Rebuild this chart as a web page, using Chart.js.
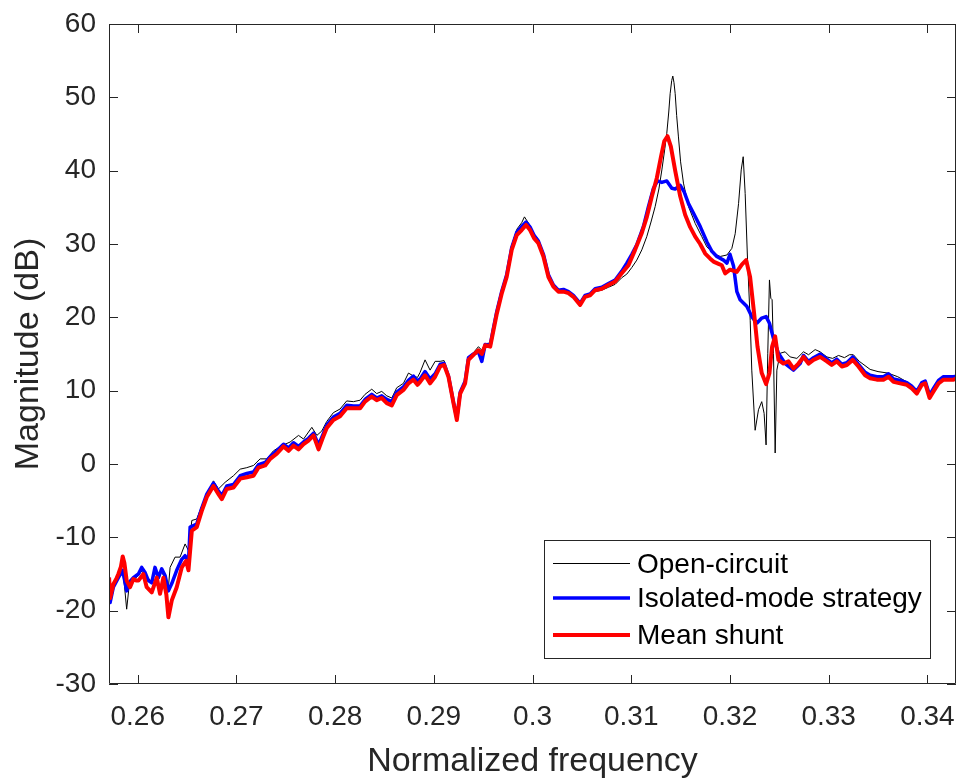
<!DOCTYPE html>
<html>
<head>
<meta charset="utf-8">
<script src="https://cdn.jsdelivr.net/npm/chart.js@4.4.0/dist/chart.umd.min.js"></script>
<style>
  body { margin: 0; background: #fff; }
</style>
</head>
<body>
<canvas id="chart" width="960" height="779"></canvas>
<script>
// Open-circuit (thin black)
const freqOpen = [
  0.25710, 0.25720, 0.25753, 0.25804, 0.25848, 0.25865, 0.25888, 0.25910, 0.25945, 0.26007,
  0.26040, 0.26074, 0.26108, 0.26142, 0.26175, 0.26209, 0.26243, 0.26277, 0.26311, 0.26328,
  0.26378, 0.26429, 0.26480, 0.26514, 0.26548, 0.26598, 0.26649, 0.26716, 0.26767, 0.26818,
  0.26885, 0.26970, 0.27038, 0.27105, 0.27173, 0.27240, 0.27308, 0.27375, 0.27460, 0.27544,
  0.27629, 0.27680, 0.27764, 0.27815, 0.27865, 0.27915, 0.27982, 0.28050, 0.28117, 0.28185,
  0.28253, 0.28303, 0.28371, 0.28421, 0.28472, 0.28523, 0.28574, 0.28624, 0.28692, 0.28743,
  0.28793, 0.28834, 0.28861, 0.28911, 0.28962, 0.29013, 0.29064, 0.29104, 0.29148, 0.29199,
  0.29233, 0.29267, 0.29317, 0.29351, 0.29402, 0.29452, 0.29486, 0.29520, 0.29571, 0.29605,
  0.29638, 0.29689, 0.29738, 0.29789, 0.29840, 0.29890, 0.29918, 0.29975, 0.30015, 0.30059,
  0.30110, 0.30161, 0.30211, 0.30262, 0.30313, 0.30364, 0.30414, 0.30482, 0.30532, 0.30583,
  0.30634, 0.30701, 0.30769, 0.30837, 0.30904, 0.30955, 0.31006, 0.31056, 0.31107, 0.31157,
  0.31200, 0.31242, 0.31280, 0.31310, 0.31340, 0.31360, 0.31380, 0.31394, 0.31410, 0.31421,
  0.31433, 0.31445, 0.31460, 0.31478, 0.31500, 0.31529, 0.31580, 0.31648, 0.31715, 0.31766,
  0.31834, 0.31901, 0.31969, 0.32019, 0.32053, 0.32087, 0.32114, 0.32134, 0.32154, 0.32178,
  0.32205, 0.32221, 0.32255, 0.32289, 0.32322, 0.32346, 0.32366, 0.32383, 0.32400, 0.32414,
  0.32427, 0.32441, 0.32458, 0.32475, 0.32508, 0.32559, 0.32610, 0.32678, 0.32745, 0.32796,
  0.32863, 0.32913, 0.32982, 0.33040, 0.33100, 0.33160, 0.33210, 0.33250, 0.33310, 0.33420,
  0.33500, 0.33600, 0.33700, 0.33792, 0.33893, 0.33960, 0.34030, 0.34095, 0.34200, 0.34300
];
const magOpen = [
  -15.0, -18.0, -16.5, -15.4, -15.0, -16.5, -19.8, -17.0, -16.0, -15.2,
  -14.6, -15.2, -15.6, -16.0, -14.6, -15.8, -14.6, -15.8, -16.8, -14.1,
  -12.7, -12.7, -10.9, -11.8, -7.7, -7.5, -5.7, -3.9, -2.3, -3.4,
  -2.5, -1.6, -0.7, -0.5, -0.2, 0.7, 0.7, 1.8, 2.5, 3.0,
  3.9, 3.4, 5.0, 3.9, 4.5, 5.8, 7.0, 7.5, 8.6, 8.5,
  8.7, 9.5, 10.2, 9.6, 9.9, 9.3, 9.0, 10.4, 11.0, 12.4,
  12.0, 11.8, 12.5, 14.2, 12.8, 14.0, 14.0, 14.1, 12.2, 8.5,
  6.3, 9.8, 11.5, 14.6, 15.2, 16.0, 15.5, 16.4, 16.5, 18.8,
  21.0, 23.8, 26.0, 29.8, 32.0, 32.9, 33.7, 32.5, 31.4, 30.6,
  28.6, 25.8, 24.4, 23.6, 23.7, 23.5, 23.0, 21.9, 22.9, 23.1,
  23.5, 23.7, 24.1, 24.5, 25.4, 25.9, 26.8, 27.8, 29.2, 31.0,
  33.0, 35.1, 37.5, 40.1, 43.0, 45.1, 48.0, 50.5, 52.3, 52.9,
  52.0, 50.5, 47.5, 44.6, 41.2, 38.3, 35.1, 32.8, 31.0, 29.6,
  28.7, 28.3, 28.5, 29.4, 31.4, 35.5, 40.1, 41.9, 36.9, 27.8,
  19.6, 12.8, 4.6, 7.4, 8.5, 6.9, 2.6, 15.1, 25.1, 22.6,
  22.4, 15.1, 1.5, 12.8, 15.1, 15.3, 14.6, 14.4, 15.3, 14.9,
  15.6, 15.3, 14.6, 14.4, 14.8, 14.5, 14.9, 14.9, 14.0, 12.9,
  12.6, 12.4, 11.9, 11.2, 10.1, 11.3, 9.6, 11.2, 11.9, 11.9
];

// Isolated-mode strategy (blue)
const freqIsolated = [
  0.25710, 0.25720, 0.25753, 0.25804, 0.25848, 0.25888, 0.25922, 0.25956, 0.26007, 0.26040,
  0.26074, 0.26108, 0.26142, 0.26175, 0.26209, 0.26243, 0.26277, 0.26311, 0.26345, 0.26395,
  0.26446, 0.26480, 0.26514, 0.26531, 0.26598, 0.26649, 0.26700, 0.26767, 0.26818, 0.26852,
  0.26902, 0.26970, 0.27038, 0.27105, 0.27173, 0.27223, 0.27291, 0.27342, 0.27409, 0.27477,
  0.27528, 0.27578, 0.27629, 0.27680, 0.27730, 0.27781, 0.27832, 0.27876, 0.27915, 0.27982,
  0.28050, 0.28117, 0.28185, 0.28253, 0.28303, 0.28371, 0.28421, 0.28472, 0.28523, 0.28574,
  0.28624, 0.28692, 0.28743, 0.28793, 0.28834, 0.28861, 0.28911, 0.28962, 0.29013, 0.29064,
  0.29104, 0.29148, 0.29199, 0.29233, 0.29267, 0.29317, 0.29351, 0.29402, 0.29452, 0.29486,
  0.29520, 0.29571, 0.29605, 0.29638, 0.29689, 0.29738, 0.29789, 0.29840, 0.29890, 0.29934,
  0.29975, 0.30015, 0.30059, 0.30110, 0.30161, 0.30211, 0.30262, 0.30313, 0.30364, 0.30414,
  0.30482, 0.30532, 0.30583, 0.30634, 0.30701, 0.30769, 0.30837, 0.30904, 0.30955, 0.31006,
  0.31056, 0.31124, 0.31174, 0.31225, 0.31266, 0.31310, 0.31360, 0.31411, 0.31445, 0.31496,
  0.31536, 0.31580, 0.31631, 0.31698, 0.31766, 0.31817, 0.31867, 0.31935, 0.31969, 0.32000,
  0.32036, 0.32070, 0.32103, 0.32170, 0.32221, 0.32272, 0.32322, 0.32366, 0.32400, 0.32441,
  0.32491, 0.32559, 0.32644, 0.32711, 0.32745, 0.32796, 0.32846, 0.32914, 0.32982, 0.33031,
  0.33082, 0.33133, 0.33184, 0.33244, 0.33302, 0.33369, 0.33420, 0.33488, 0.33555, 0.33606,
  0.33657, 0.33724, 0.33792, 0.33842, 0.33893, 0.33944, 0.33978, 0.34022, 0.34062, 0.34113,
  0.34163, 0.34214, 0.34265, 0.34300
];
const magIsolated = [
  -15.5, -18.9, -16.8, -15.5, -14.5, -17.3, -16.0, -15.5, -15.0, -14.1,
  -14.8, -15.9, -16.2, -14.1, -15.5, -14.3, -15.2, -17.3, -16.3, -14.5,
  -13.0, -12.5, -13.5, -8.6, -8.2, -6.0, -4.1, -2.6, -3.7, -4.3,
  -3.0, -2.8, -1.6, -1.3, -1.1, -0.1, 0.2, 1.0, 1.8, 2.7,
  2.2, 2.9, 2.4, 3.0, 3.5, 4.2, 2.6, 4.0, 5.3, 6.4,
  6.9, 8.0, 7.9, 7.9, 8.8, 9.5, 9.0, 9.3, 8.8, 8.5,
  9.8, 10.5, 11.4, 12.0, 11.3, 11.6, 12.6, 11.6, 12.3, 13.6,
  13.7, 12.0, 8.4, 6.3, 9.8, 11.3, 14.5, 15.0, 15.3, 14.0,
  16.3, 16.2, 18.6, 20.8, 23.6, 25.8, 29.5, 31.6, 32.4, 33.0,
  32.3, 31.2, 30.4, 28.6, 25.8, 24.4, 23.7, 23.8, 23.5, 23.0,
  21.9, 23.0, 23.2, 23.9, 24.1, 24.6, 25.1, 26.3, 27.4, 28.6,
  29.9, 32.4, 35.1, 37.6, 38.6, 38.4, 38.6, 37.6, 37.5, 38.0,
  37.1, 35.5, 34.2, 32.4, 30.3, 29.0, 28.3, 27.8, 27.4, 28.6,
  27.0, 23.5, 22.4, 21.5, 20.1, 19.2, 19.9, 20.1, 19.2, 17.1,
  15.1, 13.7, 12.8, 13.7, 14.8, 14.0, 14.5, 15.0, 14.3, 13.8,
  14.3, 13.6, 13.8, 14.6, 13.6, 12.5, 12.1, 11.9, 11.9, 12.3,
  11.6, 11.4, 11.1, 10.6, 9.9, 11.1, 11.3, 9.4, 10.3, 11.4,
  11.9, 11.9, 11.9, 12.0
];

// Mean shunt (red)
const freqMean = [
  0.25710, 0.25720, 0.25753, 0.25785, 0.25804, 0.25830, 0.25848, 0.25865, 0.25888, 0.25922,
  0.25956, 0.25990, 0.26007, 0.26057, 0.26091, 0.26142, 0.26193, 0.26226, 0.26260, 0.26290,
  0.26311, 0.26345, 0.26395, 0.26446, 0.26490, 0.26514, 0.26548, 0.26598, 0.26649, 0.26700,
  0.26767, 0.26818, 0.26852, 0.26902, 0.26970, 0.27038, 0.27105, 0.27173, 0.27223, 0.27291,
  0.27342, 0.27409, 0.27477, 0.27528, 0.27578, 0.27629, 0.27680, 0.27730, 0.27781, 0.27832,
  0.27876, 0.27915, 0.27982, 0.28050, 0.28117, 0.28185, 0.28253, 0.28303, 0.28371, 0.28421,
  0.28472, 0.28523, 0.28574, 0.28624, 0.28692, 0.28743, 0.28793, 0.28834, 0.28861, 0.28911,
  0.28962, 0.29013, 0.29064, 0.29104, 0.29148, 0.29199, 0.29233, 0.29267, 0.29317, 0.29351,
  0.29402, 0.29452, 0.29486, 0.29520, 0.29571, 0.29605, 0.29638, 0.29689, 0.29738, 0.29789,
  0.29840, 0.29890, 0.29934, 0.29975, 0.30015, 0.30059, 0.30110, 0.30161, 0.30211, 0.30262,
  0.30313, 0.30364, 0.30414, 0.30482, 0.30532, 0.30583, 0.30634, 0.30701, 0.30769, 0.30837,
  0.30904, 0.30972, 0.31039, 0.31107, 0.31158, 0.31209, 0.31259, 0.31300, 0.31334, 0.31367,
  0.31401, 0.31445, 0.31496, 0.31546, 0.31597, 0.31648, 0.31698, 0.31749, 0.31800, 0.31833,
  0.31884, 0.31917, 0.31951, 0.32001, 0.32069, 0.32120, 0.32164, 0.32204, 0.32245, 0.32279,
  0.32322, 0.32366, 0.32400, 0.32427, 0.32458, 0.32491, 0.32542, 0.32593, 0.32644, 0.32694,
  0.32745, 0.32796, 0.32846, 0.32914, 0.32982, 0.33031, 0.33082, 0.33133, 0.33184, 0.33244,
  0.33302, 0.33369, 0.33420, 0.33488, 0.33555, 0.33606, 0.33657, 0.33724, 0.33792, 0.33842,
  0.33893, 0.33944, 0.33978, 0.34022, 0.34062, 0.34113, 0.34163, 0.34214, 0.34265, 0.34300
];
const magMean = [
  -15.5, -18.3, -16.4, -15.6, -15.0, -14.0, -12.6, -13.5, -15.9, -16.8,
  -15.7, -15.9, -15.9, -15.0, -16.8, -17.5, -15.5, -17.7, -15.5, -17.8,
  -20.9, -18.6, -16.8, -14.1, -13.2, -14.5, -9.1, -8.6, -6.4, -4.5,
  -3.0, -4.1, -4.8, -3.4, -3.2, -2.0, -1.8, -1.6, -0.5, -0.2,
  0.7, 1.4, 2.4, 1.8, 2.5, 2.0, 2.7, 3.2, 3.9, 2.0,
  3.6, 4.9, 6.0, 6.5, 7.6, 7.6, 7.6, 8.5, 9.2, 8.7,
  9.0, 8.3, 8.0, 9.4, 10.1, 11.0, 11.5, 10.8, 11.2, 12.1,
  11.0, 11.9, 13.3, 13.5, 11.9, 8.3, 6.0, 9.6, 11.0, 14.2,
  14.9, 15.5, 15.0, 16.2, 16.0, 18.3, 20.5, 23.3, 25.5, 29.2,
  31.2, 31.9, 32.6, 31.9, 30.8, 30.1, 28.3, 25.5, 24.2, 23.5,
  23.5, 23.3, 22.8, 21.7, 22.8, 23.0, 23.7, 23.9, 24.4, 24.9,
  26.0, 27.1, 29.2, 31.5, 33.7, 36.5, 39.0, 41.8, 44.0, 44.7,
  43.3, 40.0, 36.5, 34.0, 32.3, 31.0, 30.0, 28.7, 28.0, 27.6,
  27.3, 27.1, 26.0, 26.5, 26.2, 27.2, 27.8, 25.5, 20.5, 16.0,
  12.4, 10.9, 12.4, 16.0, 17.4, 14.2, 13.7, 14.0, 13.0, 13.7,
  14.6, 13.7, 14.2, 14.6, 14.0, 13.5, 14.0, 13.3, 13.5, 14.2,
  13.3, 12.1, 11.7, 11.5, 11.5, 11.9, 11.2, 11.0, 10.8, 10.3,
  9.6, 10.8, 11.0, 9.0, 9.9, 11.0, 11.5, 11.5, 11.5, 11.7
];

const xTicks = [0.26, 0.27, 0.28, 0.29, 0.30, 0.31, 0.32, 0.33, 0.34];
const yTicks = [-30, -20, -10, 0, 10, 20, 30, 40, 50, 60];
const seriesNames = ['Open-circuit', 'Isolated-mode strategy', 'Mean shunt'];
const seriesColors = ['#000000', '#0000ff', '#ff0000'];
const seriesWidths = [1, 3.5, 4];

const axisColor = '#262626';
const fontFamily = '"Liberation Sans", Arial, Helvetica, sans-serif';

function toPoints(xs, ys) {
  return xs.map((x, i) => ({ x: x, y: ys[i] }));
}

// box round the plot, inward ticks on all four sides, legend in lower right
const frameAndLegend = {
  id: 'frameAndLegend',
  afterDraw(chart) {
    const { ctx, chartArea: a, scales } = chart;
    const x = scales.x, y = scales.y;
    const tl = 9;
    ctx.save();
    ctx.strokeStyle = axisColor;
    ctx.lineWidth = 1;
    ctx.beginPath();
    ctx.rect(a.left + 0.5, a.top + 0.5, a.right - a.left - 1, a.bottom - a.top - 1);
    xTicks.forEach(v => {
      const px = Math.round(x.getPixelForValue(v)) + 0.5;
      ctx.moveTo(px, a.bottom); ctx.lineTo(px, a.bottom - tl);
      ctx.moveTo(px, a.top); ctx.lineTo(px, a.top + tl);
    });
    yTicks.forEach(v => {
      const py = Math.round(y.getPixelForValue(v)) + 0.5;
      ctx.moveTo(a.left, py); ctx.lineTo(a.left + tl, py);
      ctx.moveTo(a.right, py); ctx.lineTo(a.right - tl, py);
    });
    ctx.stroke();

    // legend
    const bx = 544, by = 540, bw = 386, bh = 118;
    ctx.fillStyle = '#ffffff';
    ctx.fillRect(bx, by, bw, bh);
    ctx.strokeRect(bx + 0.5, by + 0.5, bw, bh);
    const rows = [563.5, 598, 635];
    ctx.font = '28px ' + fontFamily;
    ctx.textBaseline = 'middle';
    ctx.textAlign = 'left';
    seriesNames.forEach((name, i) => {
      ctx.strokeStyle = seriesColors[i];
      ctx.lineWidth = seriesWidths[i];
      ctx.beginPath();
      ctx.moveTo(553, rows[i]);
      ctx.lineTo(630, rows[i]);
      ctx.stroke();
      ctx.fillStyle = '#000000';
      ctx.fillText(name, 637, Math.round(rows[i]) + 1);
    });
    ctx.restore();
  }
};

new Chart(document.getElementById('chart'), {
  type: 'line',
  data: {
    datasets: [
      { label: seriesNames[0], data: toPoints(freqOpen, magOpen), borderColor: seriesColors[0], borderWidth: seriesWidths[0], order: 3 },
      { label: seriesNames[1], data: toPoints(freqIsolated, magIsolated), borderColor: seriesColors[1], borderWidth: seriesWidths[1], order: 2 },
      { label: seriesNames[2], data: toPoints(freqMean, magMean), borderColor: seriesColors[2], borderWidth: seriesWidths[2], order: 1 }
    ]
  },
  options: {
    responsive: false,
    animation: false,
    layout: { padding: { top: 24, right: 4, left: 0, bottom: 0 } },
    elements: { point: { radius: 0 }, line: { tension: 0, fill: false, borderJoinStyle: 'round' } },
    plugins: { legend: { display: false }, tooltip: { enabled: false } },
    scales: {
      x: {
        type: 'linear',
        min: 0.25709,
        max: 0.3429,
        grid: { display: false, drawTicks: false },
        border: { display: false },
        afterBuildTicks: s => { s.ticks = xTicks.map(v => ({ value: v })); },
        afterFit: s => { s.height = 95; s.paddingLeft = 0; s.paddingRight = 0; },
        ticks: {
          padding: 16,
          color: axisColor,
          font: { family: fontFamily, size: 28 },
          maxRotation: 0,
          callback: v => String(+v.toFixed(2))
        },
        title: {
          display: true,
          text: 'Normalized frequency',
          color: axisColor,
          font: { family: fontFamily, size: 34, lineHeight: 1 },
          padding: 0
        }
      },
      y: {
        min: -30,
        max: 60,
        grid: { display: false, drawTicks: false },
        border: { display: false },
        afterBuildTicks: s => { s.ticks = yTicks.map(v => ({ value: v })); },
        afterFit: s => { s.width = 109; s.paddingTop = 0; s.paddingBottom = 0; },
        ticks: {
          padding: 13,
          color: axisColor,
          font: { family: fontFamily, size: 28 }
        },
        title: {
          display: true,
          text: 'Magnitude (dB)',
          color: axisColor,
          font: { family: fontFamily, size: 34, lineHeight: 1 },
          padding: 12
        }
      }
    }
  },
  plugins: [frameAndLegend]
});
</script>
</body>
</html>
